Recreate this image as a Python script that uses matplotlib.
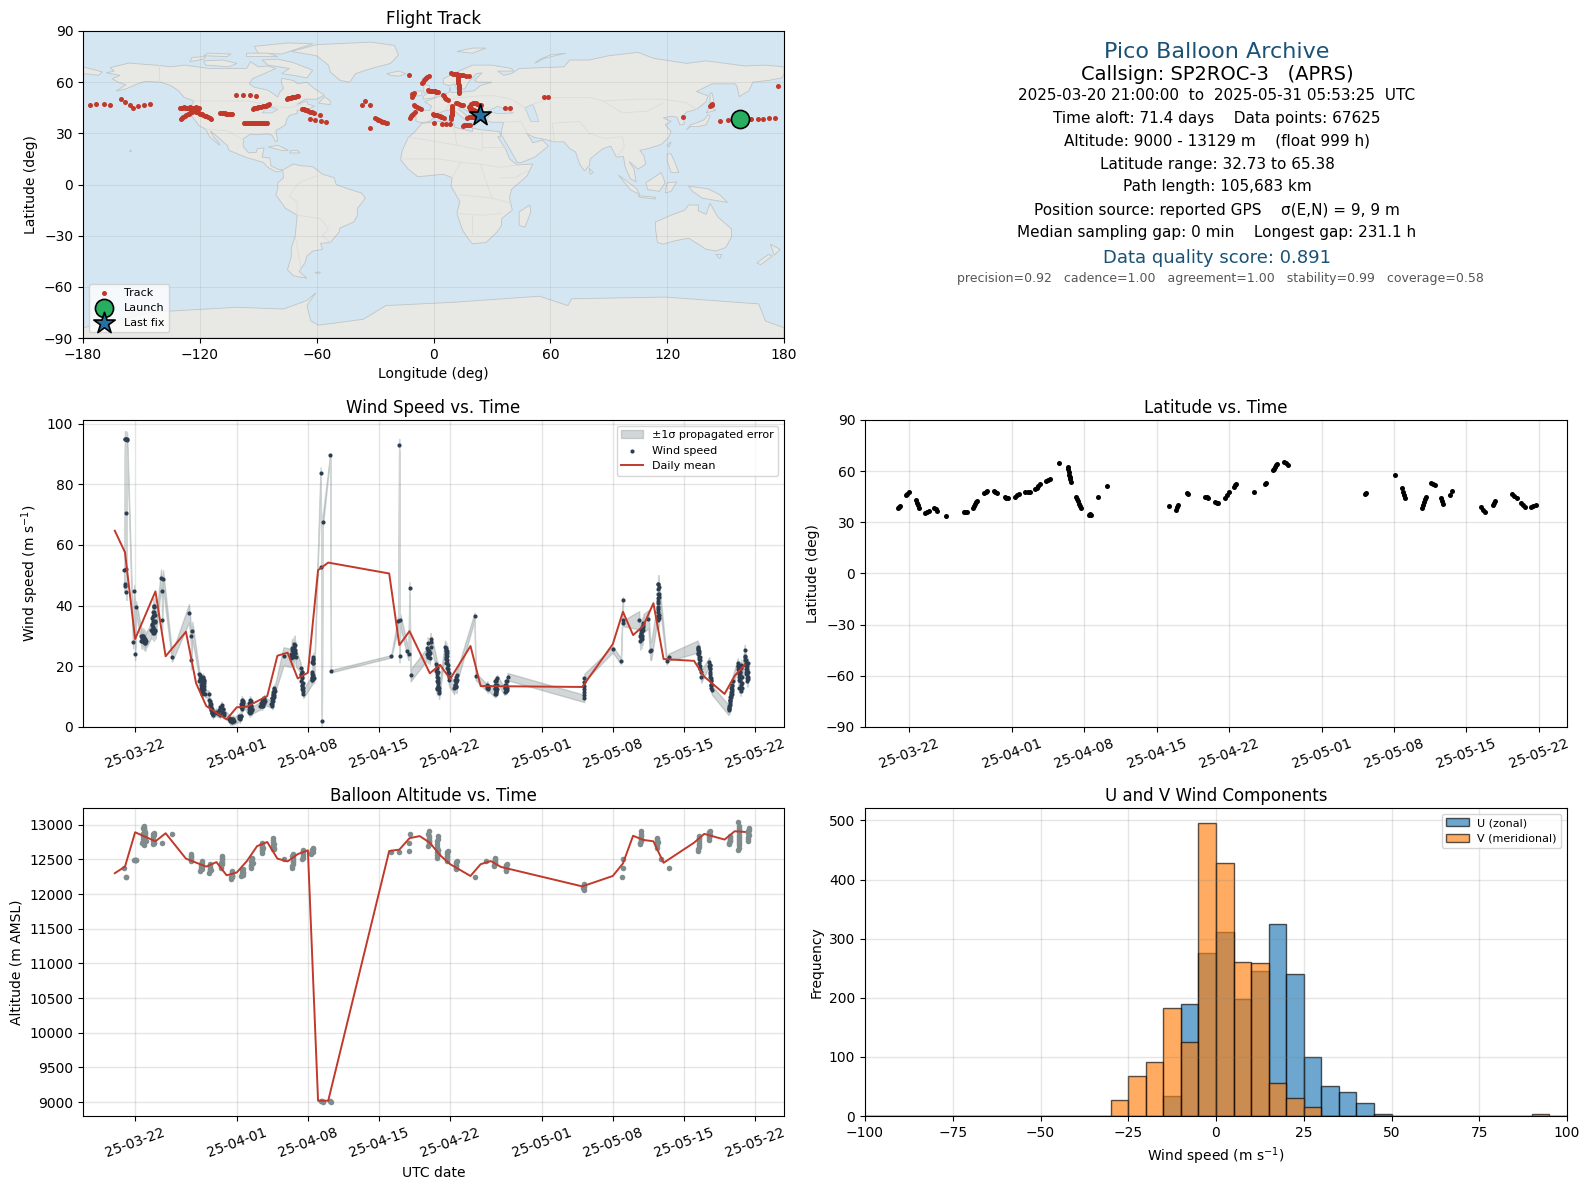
import numpy as np
import matplotlib
matplotlib.use("Agg")
import matplotlib.pyplot as plt
import matplotlib.dates as mdates
from matplotlib.patches import Polygon

# ---------------- land outlines (lon, lat) ----------------
north_america = [(-168,65.5),(-164,66.5),(-166,68.5),(-156.5,71.2),(-141,69.8),(-135,69),(-128,70),(-115,68),(-108,68),(-96,68),(-94,72),(-90,69),(-85,69.5),(-81,68),(-87,65),(-93,62),(-94.5,59),(-92,57),(-85,55.3),(-82,53),(-80,51.3),(-79,54),(-77,56.5),(-78,59),(-78,62.3),(-72,61),(-69.5,59),(-65,60),(-61,56),(-56,52.5),(-60,50),(-66,50),(-70,47),(-65,49),(-64.5,47),(-61,46),(-65,43.7),(-70,43.5),(-70,41.7),(-74,40.5),(-75.5,38),(-76,35),(-81,31.5),(-80,26),(-81,25),(-83,29),(-85,29.7),(-90,29.2),(-94,29.5),(-97.5,27),(-97.8,22.5),(-95,18.6),(-91,18.8),(-90.5,21),(-87,21.5),(-88,16),(-84,15.5),(-83.5,11),(-80,9),(-77.5,8.5),(-79,7.5),(-81,7.5),(-85,10),(-87.5,13),(-92,14.5),(-96,15.8),(-105,20),(-106,23),(-112,29),(-114.7,31.5),(-113,28),(-110,24),(-109.8,23),(-112,25),(-115,28),(-117,32.5),(-120.5,34.5),(-124,40),(-124.5,46),(-123,49),(-128,51),(-131,55),(-135,58),(-140,60),(-148,60.5),(-152,59),(-158,56),(-163,54.8),(-158,58.5),(-162,60),(-165,62),(-161,64)]
greenland = [(-73,78),(-60,82),(-32,83.5),(-20,81.5),(-18,76),(-22,71),(-32,68),(-40,65),(-43,60),(-48,61),(-53,66),(-54,70),(-60,75.5)]
baffin = [(-80,73.5),(-72,71.5),(-62,67),(-65,62.5),(-72,64),(-78,65),(-74,68),(-85,70),(-88,73)]
victoria_i = [(-117,70),(-105,69),(-101,71),(-108,73),(-118,72.5)]
ellesmere = [(-90,77),(-78,76.5),(-62,82.5),(-75,83),(-92,81)]
banks_i = [(-125,72),(-118,73.5),(-117,75),(-124,74.5)]
devon_i = [(-96,75),(-80,75),(-85,77),(-96,77)]
parry_i = [(-118,75.5),(-106,75),(-104,76.5),(-116,77)]
newfoundland = [(-59,47.7),(-53,46.8),(-53,49),(-56,51.5)]
cuba = [(-85,22),(-80,23),(-74.5,20),(-78,20)]
hispaniola = [(-74,18.5),(-68.5,18.5),(-70,20),(-73,20)]
hawaii = [(-156,19),(-155,19.5),(-155.8,20.3)]
south_america = [(-77.5,8.5),(-72,12),(-68,11),(-62,10.5),(-57,6),(-51,4),(-50,0),(-44,-2.5),(-37,-5),(-35,-8),(-39,-14),(-39,-18),(-41,-22),(-48,-25.5),(-48.5,-28),(-53,-34),(-58,-34.5),(-57,-38),(-62,-39),(-65,-42),(-66,-46),(-69,-51),(-65,-55),(-72,-53.5),(-75,-50),(-73,-42),(-73,-37),(-71,-30),(-70,-18),(-76,-14),(-81,-6),(-80,-2.5),(-80,1),(-77,4)]
falklands = [(-61,-51.5),(-58,-51.3),(-59,-52.3)]
africa = [(-6,35.8),(3,37),(10,37.3),(11,33.5),(20,31),(20,33),(25,32),(32,31.2),(34,31),(34.5,28),(33,28),(37,21),(39,15),(43,11.5),(51,12),(48,5),(40,-3),(39,-8),(40.5,-15),(35,-20),(35,-24),(32.5,-28),(27,-34),(20,-34.8),(18,-32),(15,-27),(12,-17),(13.5,-10),(9,-1),(9.5,4),(5,6),(-4,5),(-8,4.5),(-13,9),(-17,14.7),(-16,20),(-13,27.5),(-9.5,31)]
madagascar = [(44,-16),(49.5,-12),(50,-16),(47,-25),(44,-24)]
eurasia = [(-9,37),(-6,36.2),(-2,37),(0,39),(3,42),(6,43.3),(10,44),(12.5,41.5),(16,38.2),(17,40.5),(13,44),(13.5,45.5),(19,42),(19.5,40),(22,37),(24,38),(23,40.5),(26,40.5),(29,41),(27,37.5),(30,36.5),(36,36.5),(35,32),(34.7,29.5),(39,21),(43,13),(45,12.8),(52,16),(59,22.5),(56,26),(51,24.5),(50,26.5),(48,29.8),(52,27.5),(57,26.5),(62,25),(67,25),(70,21),(73,19),(75,12),(77.5,8),(80,11),(80.5,15),(87,21),(91,22.5),(94,16),(97.5,16.5),(98.5,10),(101,3.5),(104,1.5),(103,9),(100.5,13.5),(105,9),(109,12),(108,17),(106,20),(110,21),(117,23.5),(121,28),(122,31),(119,35),(122,37),(118,39),(122,40),(125,39.5),(126.5,35),(129,35.5),(128,40),(130,42.5),(135,44),(140,48.5),(141,52),(135,54.5),(143,59),(155,59),(156,57),(157,51.5),(162,55),(164,60),(172,61),(179,62.5),(180,65),(180,69),(170,70),(160,69.5),(140,72.5),(130,71),(113,74),(105,77.5),(90,75.5),(80,73),(70,73),(67,69),(55,68.5),(44,68),(40,65),(36,64),(33,66.5),(41,66.5),(40,68),(30,70),(20,70),(14,67),(5,62),(5,59),(8,58),(11,59),(12,56),(16,56),(18,60),(22,65),(25,65.5),(21,61),(23,60),(30,60),(24,58),(21,55),(14,54),(9,54),(8.5,57),(8,54),(4,52),(-1,50),(-4.5,48.5),(-1,46),(-2,43.5),(-9,43.5)]
chukotka_east = [(-180,65),(-172,64),(-170,66),(-180,69)]
britain = [(-5.5,50),(1,51),(1.5,53),(-2,56),(-2,58),(-5,58.5),(-5,54),(-3,53.5),(-5,52)]
ireland = [(-10,52),(-6,52),(-6,55),(-10,54.5)]
iceland = [(-24,65),(-18,66.5),(-14,65),(-18,63.5),(-22,64)]
svalbard = [(12,78),(20,80),(27,80),(20,77)]
novaya_zemlya = [(52,71),(57,74),(68,77),(60,76),(54,73)]
honshu = [(130,32),(132,34),(136,34),(140,35),(142,40),(141,41),(139,38),(136,36.5),(132,35)]
hokkaido = [(140,42),(145,43.5),(142,45.5)]
sakhalin = [(142,46),(144,49),(143,54),(142,53)]
sri_lanka = [(80,9.5),(82,7),(80.5,6)]
taiwan = [(120,23),(122,25),(121,22)]
philippines = [(120,18),(122,18),(124,13),(126,7),(122,7),(120,14)]
sumatra = [(95,5.5),(104,-2),(106,-6),(101,-3)]
java = [(105,-6.5),(114,-7.5),(114,-8.5),(106,-7.5)]
borneo = [(109,1),(117,7),(119,1),(116,-4),(110,-3)]
sulawesi = [(119,-5),(120,1),(125,1.5),(122,-4)]
new_guinea = [(131,-1),(141,-2.5),(147,-6),(151,-10.5),(143,-9),(138,-8),(133,-4)]
australia = [(114,-22),(122,-18),(129,-15),(131,-12),(136,-12),(136,-15.5),(140,-17.5),(142,-11),(146,-19),(153,-26),(153,-31),(150,-37),(145,-39),(140,-38),(136,-35),(131,-31.5),(124,-33),(118,-35),(115,-34),(114,-26)]
tasmania = [(145,-41),(148,-41),(147,-43.5)]
nz_north = [(173,-35),(178,-38),(175,-41.5)]
nz_south = [(172,-41),(174,-42),(168,-47),(166,-46)]
antarctica = [(-180,-84),(-160,-79),(-145,-75),(-132,-74),(-101,-72),(-77,-73),(-65,-68),(-60.5,-63.5),(-65,-71),(-63,-80),(-59,-82.5),(-36,-79),(-24.5,-71),(11,-69),(54.5,-65.5),(69,-71),(71,-67),(119,-66),(167,-70),(170.5,-80),(180,-84),(180,-90),(-180,-90)]
land_shapes = [north_america, greenland, baffin, victoria_i, ellesmere, banks_i, devon_i, parry_i, newfoundland, cuba, hispaniola, hawaii, south_america, falklands, africa, madagascar, eurasia, chukotka_east, britain, ireland, iceland, svalbard, novaya_zemlya, honshu, hokkaido, sakhalin, sri_lanka, taiwan, philippines, sumatra, java, borneo, sulawesi, new_guinea, australia, tasmania, nz_north, nz_south, antarctica]
inland_seas = [[(28,43),(33,46),(41,42),(33,41.5)], [(47,45),(50,37),(54,37),(53,41),(51,47)], [(-88,42),(-85,46),(-80,44),(-83,42)]]
borders = [[(-123,49),(-95,49),(-83,46),(-75,45),(-67,47)], [(-117,32.5),(-106,31.5),(-97.5,26)], [(-141,69.8),(-141,60)],
           [(-70,-18),(-58,-20),(-54,-26),(-57,-30),(-53,-34)], [(-70,-18),(-70,-10),(-74,-7),(-70,0),(-67,2),(-60,5)], [(-71,-30),(-68,-50)],
           [(-13,27.5),(-8,27),(12,23),(25,20),(25,32)], [(25,22),(37,22)], [(-17,15),(3,15),(14,13),(24,12),(34,10),(43,11.5)], [(9.5,4),(14,13)], [(24,12),(30,-8),(40,-11)], [(13.5,-6),(30,-8)], [(12,-17),(25,-18),(35,-17)], [(20,-29),(20,-18)], [(34,4),(42,4),(48,8)], [(10,37.3),(12,23)],
           [(5,50),(14,51),(24,52),(32,52),(40,50),(47,45)], [(51,47),(62,51),(80,51),(87,49),(105,50),(118,50),(130,48),(135,44)], [(87,49),(97,42),(110,43),(118,48)], [(62,25),(61,36),(75,37),(80,30),(88,27),(97,28),(98,22),(94,16)], [(48,30),(45,37),(36,36.5)], [(-2,43.5),(3,42)], [(6,43.5),(8,47),(14,47),(23,44),(29,45)]]

# ---------------- track on the map ----------------
track_lon = [-176.4,-173.3,-169.3,-166.2,-160.6,-158.5,-156.1,-154.4,-151.8,-148.7,-145.8,
 -130.3,-129,-127.5,-126,-124.5,-123,-121.5,-120.2,-129.8,-128.5,-127,-125.5,-124,-122.5,-121,-125,-123.5,-122,-120.5,-119,-117.5,-116,-114.2,
 -109.4,-108,-106.5,-105,-103.5,-101.3,-97.7,-94.4,-91.3,-92.7,-91.5,-90,-88.5,-87,-85.5,-84.3,
 -97.5,-96,-94.5,-93,-91.5,-90,-88.5,-87,-85.5,-75.2,-74,-72.5,-71,-69.5,-67.6,-66.5,-65,-63.5,-61.6,-58.5,-63.3,-60.6,-58,-55.1,
 -36.5,-35.3,-32.4,-32.4,-29.8,-28.5,-27,-25.5,-23.8,-12.6,-11.1,-10.2,-10.2,-8.5,-6.6,-12.1,-11,-9.7,-6.1,-5,-3.7,-2.5,-3,-1.5,0,1.2,2.3,4.7,6,7.3,
 0.4,4.2,6.6,8.5,-0.1,1.3,2.7,4,5.3,9.7,9.6,9.5,9.4,9.3,9.1,9,11.4,13,15,9,11,13,15,18,12.6,12.7,12.8,12.9,13,13.1,13.3,
 15,16.5,18.5,17.3,19,20.5,22.1,18,19.5,20.9,22.5,24.5,19,21,23,25,36.5,39.3,56.8,58.7,127.9,142.5,142.8,147.2,151,163.3,166.4,169.3,172.1,175.2,176.7]
track_lat = [46.6,47.4,47.4,46.6,50.3,48.6,46.8,45,46.2,46.8,47.4,
 45,45,45,45,45,45,45,45,38.6,39.6,40.6,41.6,42.6,43.4,44.5,44.5,43.6,42.8,42,41.2,40.4,39.6,38.6,
 42,41.8,41.6,41.3,41.1,52.7,52.7,52.7,52,44.5,44.9,45.3,45.7,46.1,46.6,47,
 35.9,35.9,35.9,36,36,36,36,35.9,35.9,50.3,50.7,51.1,51.5,51.9,44.5,44,43.4,42.8,42,41,38.2,37.6,37.4,36.8,
 46.4,49,46.8,33.3,38.8,38,37.2,36.5,35.9,64.4,51.5,53.8,46.4,45.4,44.5,39.2,40.8,42.5,59.7,61,62.4,63.6,55.2,55,54.8,54.5,54.2,52.3,50.9,49.5,
 36.3,35.7,35.7,35.7,41.1,40.7,40.2,39.7,39.2,46,44.6,43.3,42,40.8,39.5,38.2,48,47.2,46.4,65.2,64.8,64.4,64,63.6,63.6,61.5,59.5,57.5,56.5,55,53.8,
 34.3,34.8,35.1,39.2,39.4,39.5,39.6,45.6,47,48,47.2,46.4,44.5,43.5,42.5,41.5,44.6,45,51.5,51.5,39.6,46.6,46.6,37.2,38,38.6,38.6,38.6,39,39,57.9]
track_dense_lon = [-129.5,-128.2,-126.8,-125.2,-123.8,-122.2,-120.8, -129.2,-127.8,-126.2,-124.8,-123.2,-121.8, -124.2,-122.8,-121.2,-119.8,-118.2,-116.8,-115,
 -108.7,-107.2,-105.8,-104.2, -92,-90.8,-89.2,-87.8,-86.2,-85, -96.8,-95.2,-93.8,-92.2,-90.8,-89.2,-87.8,-86.2,
 -74.6,-73.2,-71.8,-70.2, -67,-65.8,-64.2,-62.5, -29.2,-27.8,-26.2,-24.6, -10.6,-10.8, -9.4,-7.5, -11.5,-10.4,
 -5.6,-4.3,-3.1, -2.2,-.8,.6,1.8, 5.3,6.6, 0.5,2,3.3,4.6, 9.65,9.55,9.45,9.35,9.2,
 12.2,14, 10,12,14,16.5, 12.65,12.75,12.85,12.95,13.05,13.2, 15.8,17.5, 18.2,19.8,21.3, 18.8,20.2,21.7,23.5, 20,22,24, 141.9,143]
track_dense_lat = [45,45.2,44.8,45.2,44.8,45.2,44.8, 39.1,40.1,41.1,42.1,43,43.9, 44,43.2,42.4,41.6,40.8,40,39.1,
 41.9,41.7,41.4,41.2, 44.7,45.1,45.5,45.9,46.3,46.8, 35.9,36,35.9,36.1,35.9,36.1,36,35.9,
 50.5,50.9,51.3,51.7, 44.2,43.7,43.1,42.4, 38.4,37.6,36.8,36.2, 52.3,53, 45.9,45, 40,41.6,
 60.3,61.7,63, 55.1,54.9,54.6,54.4, 51.6,50.2, 40.9,40.5,40,39.5, 45.3,44,42.6,41.4,40.2,
 47.6,46.8, 65,64.6,64.2,63.8, 62.5,60.5,58.5,57,55.8,54.5, 34.6,34.9, 39.3,39.5,39.6, 46.3,47.5,47.6,46.8, 44,43,42, 46.3,47]
launch_lon = [157.2]
launch_lat = [38.2]
last_lon = [24.0]
last_lat = [40.5]

# ---------------- wind speed, days after 2025-03-22 ----------------
wind_day = [-1.08,-1.01,-0.95,-0.92,-0.88,-0.85,-0.79, -0.2,-0.1,0,0.1,
 .6,.65,.7,.75,.8,.85,.9,.95,1.0,1.05,
 1.6,1.65,1.7,1.75,1.8,1.85,1.9,1.95,2.0,1.7,1.8,1.9,1.85,
 2.55,2.75,2.65,2.65,3.63,5.3,5.63,5.5,5.5,
 6.3,6.35,6.4,6.45,6.5,6.55,6.6,6.65,6.7,6.75,6.8,6.85,6.5,6.7,
 7.26,7.3,7.35,7.4,7.45,7.5,7.55,7.6,7.65,
 8.0,8.2,8.3,8.4,8.5,8.6,8.7,9.2,9.3,9.4,9.5,9.6,9.65,
 10.2,10.3,10.4,10.5,10.5,10.5,10.5,10.55,10.55,
 11.2,11.25,11.3,11.3,11.3,11.35,11.35,11.4,11.5,
 12.3,12.4,12.5,12.6,12.7,12.45,12.55,12.65,
 13.4,13.45,13.5,13.5,13.55,13.6,13.6,13.65,13.7,13.7,
 14.6,15.3,15.35,15.4,15.5,15.55,15.6,15.65,15.7,15.75,15.8,
 16.3,16.3,16.35,16.4,16.4,16.45,16.5,16.5,16.55,
 17.4,17.4,17.45,17.45,17.5,17.5,17.55,17.55,17.4,17.5,
 18.25,18.33,18.37,18.45,19.2,19.27,25.2,25.9,25.98,26.02,26.1,26.8,26.9,27,27.1,
 28.7,28.75,28.8,28.8,28.85,29.0,29.05,29.08,29.1,29.15,
 29.65,29.65,29.7,29.7,29.75,29.75,29.8,29.8,29.85,29.9,29.9,
 30.5,30.55,30.55,30.6,30.6,30.65,30.65,30.7,30.7,30.75,30.8,30.85,30.85,30.9,
 31.4,31.5,31.5,31.55,31.6,31.6,31.65,31.7,
 33.4,33.5,34.6,34.65,34.7,34.75, 35.4,35.4,35.45,35.5,35.5,35.5,35.55,35.6,35.6,
 36.35,36.4,36.4,36.45,36.5,36.5,36.55,36.65,
 44.2,44.2,44.2,44.2,44.2,44.2,44.2,47,47.8,48,48,48.05,49.6,
 49.7,49.75,49.8,49.85,49.9,49.95,50,50,50.5,50.7,50.8,
 51.45,51.5,51.5,51.5,51.5,51.5,51.5,51.5,51.5,51.55,51.55,52.3,52.5,
 55.35,55.4,55.4,55.4,55.45,55.45,55.5,55.55,55.6,55.65,55.7,
 56.5,56.5,56.55,56.55,56.6,56.6,56.6,56.65,56.65,56.7,56.7,56.75,
 58.4,58.45,58.45,58.5,58.5,58.55,58.55,58.6,58.6,58.65,58.7,58.7,58.75,58.8,
 59.3,59.3,59.35,59.4,59.4,59.45,59.5,59.5,59.55,59.6,59.65,59.7,59.7,
 60,60,60.05,60.05,60.1,60.1,60.15,60.15,60.2,60.2,60.25,60.25,60.3]
wind_speed = [51.7,94.9,46.4,95,70.5,44.4,94.6, 27.9,44.8,24,39.5,
 30,29.6,29.2,30,28.6,29.2,28,28.6,27.6,28.4,
 32,33.5,31.5,35,36.5,38,39.5,32,31.5,34,33,37,40,
 49,48.7,44.8,35.2,23,37.5,31.7,29.9,22,
 17.5,16,17,15,16,14.5,15.5,13.5,14.5,12.5,13.5,11,12.5,11.5,
 10.8,9,8,7.2,6.5,5.8,5,4.5,4,
 5,4.5,5.5,6.5,7.2,6,4,3,2.5,2.2,1.8,2.2,2.6,
 3,2.5,3.5,6,7,8,9,6.5,8.5,
 5,6,4.5,7,9,5.5,8,7,6,
 7,8,9,8.5,9.5,6.8,7.5,9,
 7.5,8.5,7,9.5,10.5,8.5,11.5,12.5,10.5,13,
 23.3,22.8,24,25.5,23.5,25,26.5,24,27,25.5,23,
 19.4,17,15,18,13.5,16,12,14.5,11,
 15.5,17.5,16,18,15.8,17,21,23,16.5,22,
 83.7,52.6,1.9,67.5,89.7,18.4,23.3,34.9,93,23.3,35.2,25,24,45.8,17,
 24,26,23,27.6,25,22.7,24.5,29,26.5,28,
 20.8,18.5,19.5,16.5,17.5,15,16,13.5,14.5,12,11.2,
 26.5,25.5,24,25,22.5,23.5,21,22,19.5,20.5,18,17.7,16.5,15.5,
 12.8,14,15.5,13.5,16.5,14.8,15.6,17,
 36.5,16.7,13,13.9,12.4,13.2, 11,12.5,14,11.5,13,15,12,14,16,
 11.7,12.8,14,11.9,13,15,12.2,16.6,
 9.4,10.5,11.5,12.5,13.5,14.8,16.3,25.6,21.7,41.8,35.3,34.2,35.2,
 28.5,29.5,30.5,29,31.5,33,32,34.2,35.5,25,25.3,
 35.3,36.5,38,39.5,41,42.5,44,45.5,47,37,43,21.8,23,
 26.5,25.5,24,26,22.5,24.5,21,23,20,18,16.6,
 21.5,20,20.5,19,18,16.6,17.5,15.5,14,16,13,12.2,
 5.6,7,6,8.5,7.2,10,8.8,11.5,10,13,12,14,11,15,
 21,19,20,17.5,15.5,18,13,15.8,17,12,19.5,14.5,16.5,
 25.4,22,23.5,20.5,22,19,20.5,17.5,19,16,17.5,15,15.8]
wind_dense_day = [-1.04,-.98,-.9,-.82, .62,.68,.72,.78,.82,.88,.92,.98,1.02,
 1.68,1.72,1.78,1.82,1.88,1.92,1.98,1.76,1.86,1.96,
 6.33,6.42,6.47,6.53,6.58,6.63,6.68,6.73,6.78,6.82,6.62,6.72,
 7.33,7.38,7.43,7.48,7.53,7.58,7.63,7.7, 8.1,8.35,8.45,8.55,8.65,8.75, 9.25,9.35,9.45,9.55,9.6,9.7,
 10.45,10.6,10.65,10.4,10.6,10.25,10.35,10.45, 11.25,11.4,11.45,11.2,11.45,11.5, 12.35,12.45,12.55,12.65,12.75,12.5,
 13.42,13.48,13.52,13.58,13.62,13.68,13.72, 15.38,15.45,15.52,15.58,15.62,15.68,15.72,15.78,
 16.35,16.4,16.45,16.5,16.45,16.38, 17.45,17.5,17.52,17.42,17.55,17.6,
 28.78,28.9,28.85,28.95, 29.72,29.78,29.68,29.82,29.72,29.88, 30.6,30.65,30.7,30.75,30.55,30.62, 31.45,31.55,31.62,
 34.62,34.72,34.68, 35.42,35.47,35.52,35.57,35.45,35.53, 36.38,36.43,36.48,36.52,36.6,36.62,
 51.42,51.48,51.52,51.58,51.46,51.54, 49.72,49.78,49.82,49.88,49.92,49.98,
 55.38,55.42,55.48,55.52,55.58,55.62, 56.52,56.58,56.62,56.68,56.7,
 58.42,58.48,58.52,58.58,58.62,58.68,58.72,58.78, 59.32,59.38,59.42,59.48,59.52,59.58,59.62,59.68,59.42,59.55,
 60.02,60.08,60.12,60.18,60.22,60.28,60.3,60.32]
wind_dense_speed = [47,95,52,94.8, 28.5,30,28.3,29,30,27.9,29.5,27.8,29,
 36,38,31,40,34.5,35,37,32.5,31,34.5,
 15,15.5,13,14,12,16,16.5,15,15.5,14.5,11,13.5,
 7,8.5,5.5,7.5,4.5,6,5,4.3, 4.5,4,6.5,5,6,4.5, 2.8,1.9,2.6,2.5,1.9,2,
 7.5,7,8,6.5,8.5,3.5,3,3.5, 8,8.5,5,7,7,5.5, 6.8,7.8,7,8,8.5,8,
 9.5,7.5,11,9.5,10,11.5,12, 23,26,26,23,25,27.2,24.5,24.5,
 17.5,16.5,18,13,14,12.5, 21.5,22.5,16.5,15.5,21,16,
 25.5,25,23.5,24, 20,15,13,18,12.5,13, 26,24.5,25,19,23,21, 14,15,13.2,
 13.5,12.8,13.6, 13,11,15.5,12.5,15,11.5, 13,13.5,12,14,13,15,
 39,41.5,46,44,47,36, 30,31,32,33,30,33.5,
 25.8,24.5,23,25,22,19, 20.5,19.5,14,15,13.8,
 6.4,6.2,9,8,10.5,11,12.5,13.5, 20,19,16.5,15,18,14,20.5,13,13,18,
 23,21,18,20,18,16.5,21,18]
# half-width of the shaded band, read stretch by stretch
sigma_end_day = [-0.5,0.3,2.3,3,5,6,14,16,18,19.1,25.5,27.5,33,37,46,49,52,54,56,57,61,70]
sigma_value = [2.5,2,2.5,3,1.5,3,1.2,3,1.5,2,0.4,2,2,1.2,1.2,1,3,1.2,2,1.5,1.7,1.7]

mean_day = [-2,-1,0,2,3,5,6,7,9,10,11,13,14,15,16,17,18,19,25,26,27,29,30,31,33,34,44,47,48,49,50,51,52,55,56,58,59,60]
mean_speed = [64.7,57.6,29,44.7,23.3,31.4,14.4,6.9,2.5,6.5,6.7,10.2,23.5,24.5,16,17.9,51.7,54.2,50.6,27,31.6,17.7,20.5,15.8,26.7,13.5,13.2,27.3,38,30.3,33.3,40.8,22.4,21.8,16.6,10.9,16.9,20.5]

# ---------------- altitude ----------------
alt_day = [-1.05,-.9,-.85,-.1,0,.1, .7,.75,.8,.85,.9,.95,1.0,1.05,.85,.9,
 1.75,1.8,1.8,1.85,1.85,2.6,3.6,
 5.5,5.5,5.5,6.4,6.5,6.5,6.55,6.6,7.3,7.35,7.4,7.4,8.45,8.5,8.5,8.5,8.55,
 9.45,9.5,9.5,9.55,9.55,10.45,10.55,10.55,10.6,10.65,11.4,11.45,11.45,11.5,11.55,
 12.45,12.5,12.5,12.5,12.55,13.55,13.6,13.6,13.6,13.65,14.6,15.45,15.5,15.5,15.5,15.55,16.45,16.5,16.5,16.55,17.3,17.4,17.45,17.5,17.55,
 18.25,18.35,18.45,19.2,19.3,25.2,26,26.9,26.9,27.07,
 28.85,28.9,28.9,28.9,28.95,29.7,29.75,29.75,29.75,29.8,29.8,30.65,30.7,30.7,30.75,31.55,31.6,31.6,31.65,33.4,
 34.5,35.3,35.4,35.4,35.45,36.45,36.5,36.5,36.55,44.15,44.15,44.15,47.9,48,48,
 49.7,49.75,49.75,49.75,49.8,51.35,51.4,51.4,51.4,51.7,52.5,
 55.4,55.45,55.45,55.45,55.5,56.45,56.5,56.5,56.55,58.45,58.5,58.5,58.55,59.3,59.35,59.4,59.4,59.4,59.4,59.45,59.45,60.3,60.35,60.35,60.4,60.35]
alt_m = [12380,12250,12250,12495,12495,12495, 12740,12800,12860,12920,12975,12880,12820,12760,12700,12940,
 12715,12770,12830,12880,12740,12738,12870,
 12480,12530,12570,12335,12380,12430,12475,12400,12310,12370,12430,12340,12380,12430,12480,12520,12550,
 12215,12260,12300,12335,12240,12260,12300,12340,12360,12280,12380,12420,12470,12525,12440,
 12595,12640,12690,12740,12660,12645,12700,12750,12810,12670,12500,12380,12430,12480,12530,12570,12500,12550,12600,12640,12570,12610,12640,12670,12600,
 9010,9020,9005,9010,9005,12610,12610,12615,12740,12870,
 12690,12750,12810,12905,12770,12525,12600,12680,12760,12835,12640,12475,12530,12580,12620,12360,12400,12440,12475,12250,
 12480,12400,12450,12525,12490,12335,12370,12400,12430,12060,12100,12140,12250,12500,12380,
 12715,12770,12830,12905,12790,12665,12720,12770,12810,12500,12380,
 12620,12680,12730,12790,12835,12785,12830,12880,12905,12715,12760,12800,12835,13040,12640,12700,12760,12820,12890,12975,12930,12760,12820,12880,12950,12900]
alt_dense_day = [-.05,.05, .78,.82,.88,.92,.98,.75,.85,.95,.8, 1.78,1.82,1.8,1.82, 5.5,5.52, 6.45,6.5,6.55,6.6, 7.35,7.38,7.42,
 8.48,8.52,8.5,8.45, 9.48,9.52,9.5,9.58, 10.5,10.58,10.62, 11.42,11.48,11.5, 12.48,12.52,12.5,12.47, 13.58,13.62,13.58,13.62,
 15.48,15.52,15.5,15.45, 16.48,16.52,16.5, 17.35,17.42,17.48, 28.88,28.92,28.9,28.85, 29.72,29.78,29.74,29.76,29.8, 30.68,30.72,30.7,
 31.58,31.62,31.6, 35.35,35.42,35.38, 36.48,36.52,36.5, 44.12,44.18, 49.72,49.78,49.75, 51.38,51.42,51.4, 55.42,55.48,55.45,55.5,
 56.48,56.52,56.5, 58.48,58.52,58.5, 59.38,59.42,59.4,59.42,59.38,59.42, 60.33,60.37,60.35,60.4]
alt_dense_m = [12495,12495, 12770,12830,12890,12950,12850,12860,12780,12900,12950, 12800,12740,12860,12850, 12505,12550, 12360,12405,12450,12360, 12340,12400,12350,
 12405,12450,12500,12450, 12240,12280,12320,12260, 12280,12320,12300, 12400,12450,12500, 12615,12665,12715,12680, 12670,12725,12780,12650,
 12405,12455,12505,12550, 12520,12575,12620, 12590,12630,12655, 12720,12780,12840,12870, 12560,12640,12720,12800,12570, 12500,12555,12600,
 12380,12420,12460, 12420,12460,12510, 12350,12385,12415, 12080,12120, 12740,12800,12860, 12690,12745,12790, 12650,12705,12760,12810,
 12810,12855,12890, 12735,12780,12820, 12670,12730,12790,12850,12920,12950, 12790,12850,12910,12930]
mean_alt_day = [-2,-1,0,2,3,5,7,8,9,10,11,12,13,14,15,16,17,18,19,25,26,27,28,29,30,31,33,34,35,36,44,47,48,49,50,51,52,55,56,58,59,60]
mean_alt = [12300,12395,12890,12760,12876,12510,12395,12460,12270,12310,12476,12690,12750,12510,12470,12575,12630,9020,9020,12620,12640,12805,12835,12740,12560,12430,12260,12430,12475,12390,12110,12260,12440,12840,12780,12760,12450,12740,12867,12785,12905,12895]

# ---------------- latitude ----------------
lat_day = [-1.08,-1,-.87,-.3,-.15,0,.65,.75,.85,1,1.6,1.8,1.95,2.47,2.6,2.73,3.6,5.3,5.45,5.6,6.2,6.3,6.4,6.5,6.6,7.3,7.45,7.6,8.2,8.35,8.5,9.3,9.45,9.6,10.26,10.5,10.7,11.25,11.5,11.7,12.25,12.4,12.55,12.7,13.3,13.5,13.7,14.5,
 15.4,15.45,15.5,15.55,15.6,15.65,15.7,16.2,16.3,16.4,16.5,16.6,16.7,17.4,17.5,17.6,18.3,19.2,25.2,25.9,26,26.1,26.9,27,28.7,28.85,29,29.65,29.8,29.96,30.6,30.8,31,31.5,31.6,31.7,33.4,34.5,34.6,
 35.3,35.4,35.5,35.6,35.7,36.3,36.5,36.7,44.2,44.25,47.1,47.8,47.9,48,48.1,49.7,49.8,49.9,50,50.1,50.6,50.8,51,51.5,51.6,51.7,52.4,52.6,55.45,55.6,55.8,56.6,56.7,56.8,58.4,58.65,58.9,59.3,59.5,59.7,60.3,60.5,60.7]
lat_deg = [38.4,39,39.8,46,46.8,47.5,43,41.5,40,38.2,35.7,36,36.7,38.4,37.6,36.9,33.5,36,35.8,35.9,38.2,39.5,40.8,42,42.7,47,47.8,48.2,48.4,47.7,47,44.7,44.3,44.1,45.1,46,46.7,47.5,47.7,48,49.4,50.4,51.5,52.5,54.3,54.8,55.3,64.7,
 62.4,61,59.6,58,56.5,55.2,53.9,45.1,43.6,42.5,41,39.6,38.2,34.5,34.6,34.4,44.7,51.4,39.4,37.3,38.8,40.2,47,46.8,45.1,44.6,44.1,41.8,41.4,41.2,44.1,45.8,47.6,51,51.7,52.4,47.5,52.5,53,
 60.4,61.4,62.4,63.4,64.3,65.3,64.5,63.7,46.9,47.3,57.6,50,48,46,44.1,38.2,40,41.8,43.5,45.1,52.9,52.4,52,44.1,42.5,40.8,46.1,48.6,39.2,37.5,35.9,40.2,41.5,42.7,46.7,45.4,44.1,41.6,40.4,39.2,39.2,39.7,40.2]

# ---------------- histogram ----------------
hist_edges = np.arange(-100, 105, 5)
u_counts = [0,0,0,0,0,0,0,0,0,0,0,0,0,0,0,0,0, 33,190,275,311,198,245,325,240,100,51,40,22,4,0,0,0,0,0,0,0,0,0,0]
v_counts = [0,0,0,0,0,0,0,0,0,0,0,0,0,0, 27,68,92,182,126,496,428,260,258,56,31,15,0,0,0,0,0,0,0,0,0,0,0,0,3,0]

tick_dates = ["2025-03-22","2025-04-01","2025-04-08","2025-04-15","2025-04-22","2025-05-01","2025-05-08","2025-05-15","2025-05-22"]
tick_labels = ["25-03-22","25-04-01","25-04-08","25-04-15","25-04-22","25-05-01","25-05-08","25-05-15","25-05-22"]
info_lines = ["2025-03-20 21:00:00  to  2025-05-31 05:53:25  UTC","Time aloft: 71.4 days    Data points: 67625","Altitude: 9000 - 13129 m    (float 999 h)","Latitude range: 32.73 to 65.38","Path length: 105,683 km","Position source: reported GPS    σ(E,N) = 9, 9 m","Median sampling gap: 0 min    Longest gap: 231.1 h"]
score_parts = "precision=0.92   cadence=1.00   agreement=1.00   stability=0.99   coverage=0.58"

# ---------------- drawing ----------------
W, H = 1590, 1189
fig = plt.figure(figsize=(W/100, H/100), dpi=100)
def px_axes(l, t, r, b):
    return fig.add_axes([l/W, 1-b/H, (r-l)/W, (b-t)/H])
RED, NAVY, GREY, DARKBLUE = "#c0392b", "#2c3e50", "#7f8c8d", "#1a5276"
GRID = dict(color="gray", alpha=0.2, lw=1.0)
base = mdates.date2num(np.datetime64("2025-03-22"))
tick_x = [mdates.date2num(np.datetime64(d)) for d in tick_dates]
def date_axis(ax, x0, x1):
    ax.set_xlim(base+x0, base+x1)
    ax.set_xticks(tick_x)
    ax.set_xticklabels(tick_labels, rotation=20)

# map
ax = px_axes(83, 31, 784, 338)
ax.set_facecolor("#d4e6f1")
for s in land_shapes:
    ax.add_patch(Polygon(s, closed=True, fc="#e8e8e4", ec="#bfc5c8", lw=0.6, zorder=1))
for s in inland_seas:
    ax.add_patch(Polygon(s, closed=True, fc="#d4e6f1", ec="#bfc5c8", lw=0.5, zorder=1.1))
for b in borders:
    ax.plot(*zip(*b), color="#dcdcd8", lw=0.6, zorder=1.2)
ax.grid(True, color="gray", alpha=0.18, lw=0.6)
ax.scatter(track_lon + track_dense_lon, track_lat + track_dense_lat, s=13, color=RED, zorder=3, label="Track", linewidths=0)
ax.scatter(launch_lon, launch_lat, s=170, color="#27ae60", edgecolors="black", linewidths=1.2, zorder=4, label="Launch")
ax.scatter(last_lon, last_lat, s=260, marker="*", color="#2471a3", edgecolors="black", linewidths=1.2, zorder=5, label="Last fix")
ax.set_xlim(-180, 180); ax.set_ylim(-90, 90)
ax.set_xticks(range(-180, 181, 60)); ax.set_yticks(range(-90, 91, 30))
ax.set_xticklabels(["\u2212180","\u2212120","\u221260","0","60","120","180"])
ax.set_yticklabels(["\u221290","\u221260","\u221230","0","30","60","90"])
ax.set_xlabel("Longitude (deg)"); ax.set_ylabel("Latitude (deg)"); ax.set_title("Flight Track", fontsize=12, pad=5)
ax.legend(loc="lower left", fontsize=8, labelspacing=0.45, handletextpad=0.8)

# text panel
cx = 1217/W
def tx(y, s, x=cx, **kw):
    fig.text(x, 1-y/H, s, ha="center", va="center", **kw)
tx(52, "Pico Balloon Archive", fontsize=16, color=DARKBLUE)
tx(74, "Callsign: SP2ROC-3   (APRS)", fontsize=14)
for y, s in zip([95, 118, 141, 164, 187, 210, 233], info_lines):
    tx(y, s, fontsize=11)
tx(258, "Data quality score: 0.891", fontsize=13, color=DARKBLUE)
tx(279, score_parts, x=1220/W, fontsize=9, color="#555555")

# wind
ax = px_axes(83, 420, 784, 727)
day = np.array(wind_day + wind_dense_day); spd = np.array(wind_speed + wind_dense_speed); o = np.argsort(day, kind="stable")
sig = np.array(sigma_value)[np.searchsorted(sigma_end_day, day[o])]
ax.fill_between(base+day[o], np.maximum(spd[o]-sig, 0), spd[o]+sig, color=GREY, alpha=0.35, lw=1.0, label="\u00b11\u03c3 propagated error")
ax.scatter(base+day, spd, s=9, color=NAVY, linewidths=0, label="Wind speed", zorder=3)
ax.plot(base+np.array(mean_day), mean_speed, color=RED, lw=1.4, label="Daily mean", zorder=4)
date_axis(ax, -5.13, 63.85)
ax.set_ylim(0, 101.2); ax.set_yticks(range(0, 101, 20))
ax.grid(True, **GRID)
ax.set_ylabel("Wind speed (m s$^{-1}$)"); ax.set_title("Wind Speed vs. Time", fontsize=12, pad=5)
ax.legend(loc="upper right", fontsize=8)

# latitude
ax = px_axes(865, 420, 1567, 727)
ax.scatter(base+np.array(lat_day), lat_deg, s=13, color="black", linewidths=0, zorder=3)
date_axis(ax, -4.25, 63.75)
ax.set_ylim(-90, 90); ax.set_yticks(range(-90, 91, 30))
ax.set_yticklabels(["\u221290","\u221260","\u221230","0","30","60","90"])
ax.grid(True, **GRID)
ax.set_ylabel("Latitude (deg)"); ax.set_title("Latitude vs. Time", fontsize=12, pad=5)

# altitude
ax = px_axes(83, 808, 784, 1116)
ax.scatter(base+np.array(alt_day + alt_dense_day), alt_m + alt_dense_m, s=16, color=GREY, linewidths=0, zorder=3)
ax.plot(base+np.array(mean_alt_day), mean_alt, color=RED, lw=1.4, zorder=4)
date_axis(ax, -5.13, 63.85)
ax.set_ylim(8800, 13240); ax.set_yticks(range(9000, 13001, 500))
ax.grid(True, **GRID)
ax.set_ylabel("Altitude (m AMSL)"); ax.set_xlabel("UTC date"); ax.set_title("Balloon Altitude vs. Time", fontsize=12, pad=5)

# histogram
ax = px_axes(865, 808, 1567, 1116)
ax.bar(hist_edges[:-1], u_counts, width=5, align="edge", color="#1f77b4", alpha=0.65, edgecolor="black", lw=1.0, label="U (zonal)")
ax.bar(hist_edges[:-1], v_counts, width=5, align="edge", color="#ff7f0e", alpha=0.65, edgecolor="black", lw=1.0, label="V (meridional)")
ax.set_xlim(-100, 100); ax.set_ylim(0, 521)
ax.set_xticks(range(-100, 101, 25))
ax.set_xticklabels(["\u2212100","\u221275","\u221250","\u221225","0","25","50","75","100"])
ax.grid(True, **GRID)
ax.set_xlabel("Wind speed (m s$^{-1}$)"); ax.set_ylabel("Frequency"); ax.set_title("U and V Wind Components", fontsize=12, pad=5)
ax.legend(loc="upper right", fontsize=8)

fig.savefig("out.png", dpi=100)
